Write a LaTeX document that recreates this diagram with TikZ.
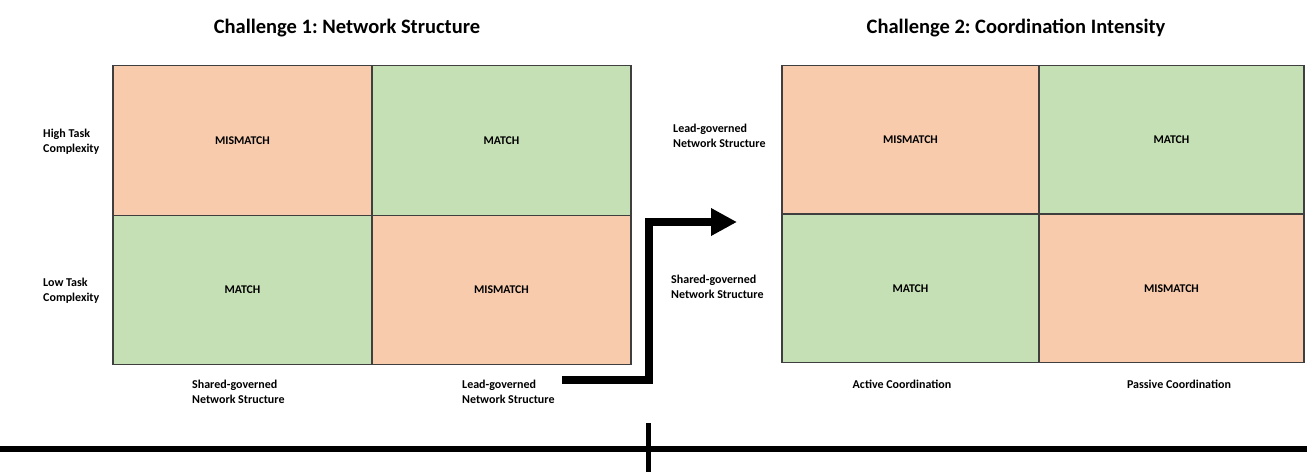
\documentclass[tikz,border=0pt]{standalone}
\usepackage{fontspec}
\setmainfont{Carlito}
\usepackage{tikz}
\usetikzlibrary{arrows.meta, positioning}
\definecolor{misorange}{HTML}{F8CBAD}
\definecolor{matgreen}{HTML}{C5E0B4}
\definecolor{cellborder}{HTML}{3F3F3F}
\frenchspacing

\begin{document}
\begin{tikzpicture}[x=1pt, y=-1pt,
  cell/.style={rectangle, draw=cellborder, line width=1.2pt,
               inner sep=0pt, outer sep=0pt, minimum height=149.5pt,
               font=\fontsize{11.8}{14}\selectfont\bfseries},
  mis/.style={cell, fill=misorange},
  mat/.style={cell, fill=matgreen},
  ttl/.style={font=\fontsize{20.5}{24}\selectfont\bfseries},
  lbl/.style={align=left, inner sep=0pt,
              font=\fontsize{12}{15}\selectfont\bfseries},
  arr/.style={line width=8pt, line join=miter, black,
              -{Triangle[length=26pt, width=26pt]}}
]
\useasboundingbox (0,0) rectangle (1307,472);
% titles
\node[ttl] (T1) at (347,28)  {Challenge 1: Network Structure};
\node[ttl] (T2) at (1016,28) {Challenge 2: Coordination Intensity};

% challenge 1 matrix
\node[mis, minimum width=259pt] (A11) at (242.5,140.5) {MISMATCH};
\node[mat, minimum width=259pt] (A12) at (501.5,140.5) {MATCH};
\node[mat, minimum width=259pt] (A21) at (242.5,290)   {MATCH};
\node[mis, minimum width=259pt] (A22) at (501.5,290)   {MISMATCH};
\node[lbl, anchor=west] (HiT) at (43,142) {High Task\\Complexity};
\node[lbl, anchor=west] (LoT) at (43,291) {Low Task\\Complexity};
\node[lbl, anchor=west] (ShA) at (192,392) {Shared-governed\\Network Structure};
\node[lbl, anchor=west] (LdA) at (462,392) {Lead-governed\\Network Structure};

% challenge 2 matrix
\node[mis, minimum width=257pt, minimum height=148.5pt] (B11) at (910.5,139.5) {MISMATCH};
\node[mat, minimum width=265pt, minimum height=148.5pt] (B12) at (1171.5,139.5) {MATCH};
\node[mat, minimum width=257pt, minimum height=148.5pt] (B21) at (910.5,288.5) {MATCH};
\node[mis, minimum width=265pt, minimum height=148.5pt] (B22) at (1171.5,288.5) {MISMATCH};
\node[lbl, anchor=west] (LdB) at (673,136) {Lead-governed\\Network Structure};
\node[lbl, anchor=west] (ShB) at (671,287) {Shared-governed\\Network Structure};
\node[lbl] (ActC) at (902,384)  {Active Coordination};
\node[lbl] (PasC) at (1179,384) {Passive Coordination};

% step arrow
\coordinate (arrS) at (562,380);
\coordinate (arrE) at (737,222);
\draw[arr] (arrS) -- (649,380) |- (arrE);

% bottom axis
\coordinate (axL) at (0,449);
\coordinate (axR) at (1307,449);
\coordinate (tkT) at (648,423);
\coordinate (tkB) at (648,472);
\draw[line width=6pt] (axL) -- (axR);
\draw[line width=5pt] (tkT) -- (tkB);
\end{tikzpicture}
\end{document}
